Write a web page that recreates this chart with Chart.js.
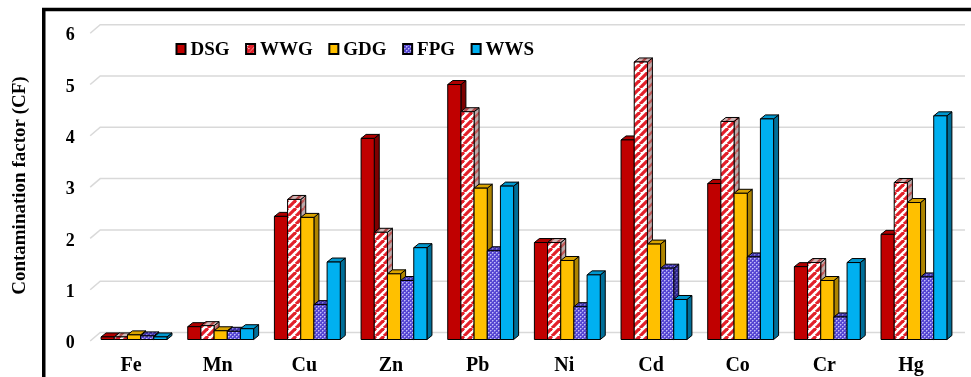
<!DOCTYPE html>
<html>
<head>
<meta charset="utf-8">
<script src="https://cdn.jsdelivr.net/npm/chart.js@4/dist/chart.umd.min.js"></script>
<style>
  html, body { margin: 0; padding: 0; background: #fff; }
  canvas { display: block; }
</style>
</head>
<body>
<canvas id="c" width="971" height="377"></canvas>
<script>
// Contamination factor (CF) of heavy metals per sampling group
const categories = ['Fe', 'Mn', 'Cu', 'Zn', 'Pb', 'Ni', 'Cd', 'Co', 'Cr', 'Hg'];
const seriesNames = ['DSG', 'WWG', 'GDG', 'FPG', 'WWS'];
const DSG = [0.05, 0.25, 2.40, 3.92, 4.97, 1.89, 3.89, 3.04, 1.42, 2.05];
const WWG = [0.05, 0.27, 2.73, 2.09, 4.44, 1.89, 5.41, 4.25, 1.50, 3.06];
const GDG = [0.09, 0.17, 2.38, 1.28, 2.95, 1.54, 1.86, 2.85, 1.15, 2.67];
const FPG = [0.07, 0.16, 0.68, 1.15, 1.73, 0.64, 1.39, 1.61, 0.44, 1.22];
const WWS = [0.05, 0.21, 1.51, 1.79, 2.99, 1.26, 0.78, 4.30, 1.50, 4.36];
const yTicks = [0, 1, 2, 3, 4, 5, 6];
const yTitle = 'Contamination factor (CF)';

const FONT = '"Liberation Serif", "Times New Roman", serif';
const canvas = document.getElementById('c');
const mainCtx = canvas.getContext('2d');

// diagonal "/" stripes
function stripes(bg, fg, period, lw) {
  const c = document.createElement('canvas');
  c.width = c.height = period;
  const g = c.getContext('2d');
  g.fillStyle = bg; g.fillRect(0, 0, period, period);
  g.strokeStyle = fg; g.lineWidth = lw;
  for (const o of [-period, 0, period]) {
    g.beginPath(); g.moveTo(o, period); g.lineTo(o + period, 0); g.stroke();
  }
  return mainCtx.createPattern(c, 'repeat');
}
// small dotted lattice
function dots(bg, fg) {
  const c = document.createElement('canvas');
  c.width = c.height = 4;
  const g = c.getContext('2d');
  g.fillStyle = bg; g.fillRect(0, 0, 4, 4);
  g.fillStyle = fg;
  g.fillRect(0, 0, 1, 1); g.fillRect(2, 2, 1, 1);
  g.globalAlpha = 0.5;
  g.fillRect(1, 0, 1, 1); g.fillRect(0, 1, 1, 1); g.fillRect(3, 2, 1, 1); g.fillRect(2, 3, 1, 1);
  return mainCtx.createPattern(c, 'repeat');
}

// front / top / side fills for each series
const faces = [
  { front: '#C00000', top: '#B00000', side: '#7E0000' },
  { front: stripes('#ffffff', '#E2202A', 8, 3.2), top: stripes('#CDB6B6', '#B04A4A', 8, 2.4), side: stripes('#BBAAAA', '#C05A5A', 8, 2.4) },
  { front: '#FFC000', top: '#D9A300', side: '#AE8400' },
  { front: dots('#5546D2', '#C4BEFA'), top: dots('#3F33AA', '#8C84DC'), side: dots('#30288C', '#7068C0') },
  { front: '#00B0F0', top: '#0097CE', side: '#006E98' }
];
const seriesData = [DSG, WWG, GDG, FPG, WWS];
const depth = { dx: 5, dy: 4 };

const bars3d = {
  id: 'bars3d',
  beforeDraw(chart) {
    const { ctx, width, height } = chart;
    ctx.save(); ctx.fillStyle = '#fff'; ctx.fillRect(0, 0, width, height); ctx.restore();
  },
  beforeDatasetsDraw(chart) {
    const { ctx, chartArea, scales } = chart;
    const ys = scales.y;
    ctx.save();
    // back-wall gridlines
    ctx.strokeStyle = '#d9d9d9';
    ctx.lineWidth = 1.5;
    for (const v of yTicks) {
      const yy = ys.getPixelForValue(v);
      ctx.beginPath();
      ctx.moveTo(chartArea.left - 0.5, yy + 1.5);
      ctx.lineTo(chartArea.left + 9.5, yy - 7);
      ctx.lineTo(965, yy - 7);
      ctx.stroke();
    }
    // 3D bars, left to right
    const metas = chart.data.datasets.map((d, i) => chart.getDatasetMeta(i));
    ctx.strokeStyle = '#000';
    ctx.lineWidth = 1;
    ctx.lineJoin = 'miter';
    for (let k = 0; k < categories.length; k++) {
      for (let j = 0; j < metas.length; j++) {
        const el = metas[j].data[k];
        const p = el.getProps(['x', 'y', 'base', 'width'], true);
        const L = p.x - p.width / 2, R = p.x + p.width / 2, T = p.y, B = p.base;
        const { dx, dy } = depth;
        const f = faces[j];
        // side
        ctx.beginPath();
        ctx.moveTo(R, T); ctx.lineTo(R + dx, T - dy); ctx.lineTo(R + dx, B - dy); ctx.lineTo(R, B); ctx.closePath();
        ctx.fillStyle = f.side; ctx.fill(); ctx.stroke();
        // top
        ctx.beginPath();
        ctx.moveTo(L, T); ctx.lineTo(R, T); ctx.lineTo(R + dx, T - dy); ctx.lineTo(L + dx, T - dy); ctx.closePath();
        ctx.fillStyle = f.top; ctx.fill(); ctx.stroke();
        // front
        ctx.beginPath();
        ctx.rect(L, T, R - L, B - T);
        ctx.fillStyle = f.front; ctx.fill(); ctx.stroke();
      }
    }
    ctx.restore();
    return false;
  },
  afterDraw(chart) {
    const { ctx } = chart;
    ctx.save();
    // legend
    ctx.font = 'bold 19px ' + FONT;
    ctx.textBaseline = 'middle';
    ctx.textAlign = 'left';
    let x = 176.5;
    const cy = 49;
    seriesNames.forEach((name, j) => {
      ctx.fillStyle = faces[j].front;
      ctx.fillRect(x, cy - 5, 9, 10);
      if (j === 1) {
        ctx.save();
        ctx.beginPath(); ctx.rect(x, cy - 5, 9, 10); ctx.clip();
        ctx.strokeStyle = '#E2202A'; ctx.lineWidth = 2.5;
        ctx.beginPath(); ctx.moveTo(x, cy + 5); ctx.lineTo(x + 9, cy - 5); ctx.stroke();
        ctx.restore();
      }
      ctx.strokeStyle = '#000'; ctx.lineWidth = 2;
      ctx.strokeRect(x, cy - 5, 9, 10);
      ctx.fillStyle = '#000';
      ctx.fillText(name, x + 14, cy + 1);
      x += 14 + ctx.measureText(name).width + 16.5;
    });
    // frame
    ctx.strokeStyle = '#000';
    ctx.lineWidth = 3.5;
    ctx.strokeRect(43.75, 9.5, 1200, 1200);
    ctx.restore();
  }
};

new Chart(canvas, {
  type: 'bar',
  data: {
    labels: categories,
    datasets: seriesNames.map((name, j) => ({
      label: name,
      data: seriesData[j],
      backgroundColor: faces[j].front,
      borderColor: '#000',
      borderWidth: 1
    }))
  },
  options: {
    responsive: false,
    animation: false,
    devicePixelRatio: 1,
    layout: { padding: { left: 0, right: 13.7, top: 31.7, bottom: 0 } },
    datasets: { bar: { categoryPercentage: 0.76, barPercentage: 1.0 } },
    plugins: { legend: { display: false }, tooltip: { enabled: false } },
    scales: {
      x: {
        grid: { display: false, drawTicks: false },
        border: { display: false },
        ticks: { color: '#000', font: { family: FONT, size: 20, weight: 'bold' }, padding: 14, labelOffset: -3 },
        afterFit(s) { s.height = 37.5; }
      },
      y: {
        min: 0, max: 6,
        afterBuildTicks(s) { s.ticks = yTicks.map(v => ({ value: v })); },
        grid: { display: false, drawTicks: false },
        border: { display: false },
        ticks: { color: '#000', font: { family: FONT, size: 18, weight: 'bold' }, padding: 16, labelOffset: 4 },
        title: { display: true, text: yTitle, color: '#000', font: { family: FONT, size: 19, weight: 'bold' }, padding: { top: 9, bottom: 0 } },
        afterFit(s) { s.width = 90.7; }
      }
    }
  },
  plugins: [bars3d]
});
</script>
</body>
</html>
